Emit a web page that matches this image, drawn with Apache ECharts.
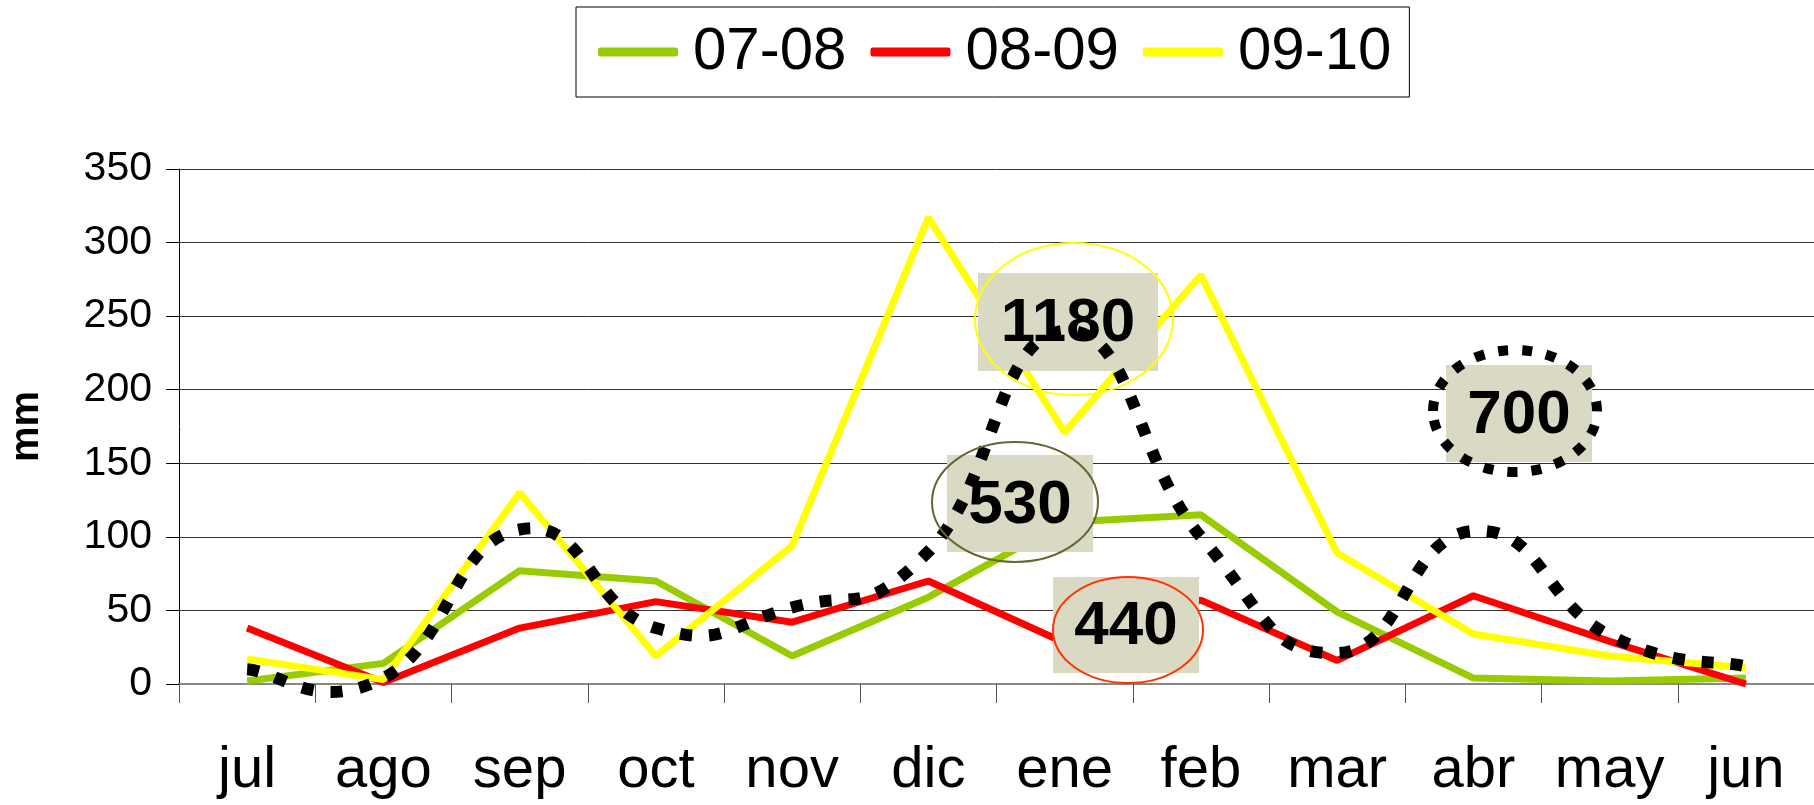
<!DOCTYPE html>
<html>
<head>
<meta charset="utf-8">
<script src="https://cdn.jsdelivr.net/npm/echarts@6/dist/echarts.min.js"></script>
<style>
html, body { margin: 0; padding: 0; background: #fff; }
#chart { width: 1814px; height: 805px; }
</style>
</head>
<body>
<div id="chart"></div>
<script>
// meses de la campaña (jul -> jun)
var months = ['jul', 'ago', 'sep', 'oct', 'nov', 'dic', 'ene', 'feb', 'mar', 'abr', 'may', 'jun'];
var yTicks = [0, 50, 100, 150, 200, 250, 300, 350];

// lluvia mensual, mm
var rain0708 = [2, 14, 77, 70, 19, 59, 110, 115, 49, 4, 2, 4];
var rain0809 = [38, 1, 38, 56, 42, 70, 28, 57, 16, 60, 29, 0];
var rain0910 = [17, 3, 130, 19, 94, 317, 171, 278, 89, 34, 19, 11];
// curva punteada suavizada (sin leyenda)
var rainMedia = [10, 4, 105, 38, 52, 90, 240, 100, 21, 104, 33, 12];

// totales anotados
var totals = ['1180', '530', '440', '700'];

var FONT = 'Liberation Sans, Arial, sans-serif';
var BOX = '#DADAC4';

function callout(text, box, ell, stroke, width, dash) {
    return {
        type: 'group',
        children: [
            { type: 'rect', z: 3, shape: { x: box[0], y: box[1], width: box[2], height: box[3] }, style: { fill: BOX } },
            { type: 'ellipse', z: 6, shape: { cx: ell[0], cy: ell[1], rx: ell[2], ry: ell[3] },
              style: { fill: null, stroke: stroke, lineWidth: width, lineDash: dash || null } },
            { type: 'text', z: 7, x: box[0] + box[2] / 2, y: box[1] + box[3] / 2 + 2,
              style: { text: text, fill: '#000', fontSize: 62, fontWeight: 'bold', fontFamily: FONT,
                       align: 'center', verticalAlign: 'middle' } }
        ]
    };
}

// curva suavizada tipo Excel (Catmull-Rom), con los puntos pasados por la escala del eje
function smoothCurve(params, api) {
    if (params.dataIndex !== 0) return null;
    var pts = rainMedia.map(function (v, i) { return api.coord([i, v]); });
    var k = 0.25;
    var d = 'M' + pts[0][0] + ' ' + pts[0][1];
    for (var i = 0; i < pts.length - 1; i++) {
        var p0 = pts[i - 1] || pts[i], p1 = pts[i], p2 = pts[i + 1], p3 = pts[i + 2] || pts[i + 1];
        var c1 = [p1[0] + (p2[0] - p0[0]) * k, p1[1] + (p2[1] - p0[1]) * k];
        var c2 = [p2[0] - (p3[0] - p1[0]) * k, p2[1] - (p3[1] - p1[1]) * k];
        d += ' C' + c1[0] + ' ' + c1[1] + ' ' + c2[0] + ' ' + c2[1] + ' ' + p2[0] + ' ' + p2[1];
    }
    return {
        type: 'path',
        shape: { pathData: d },
        style: { fill: 'none', stroke: '#000', lineWidth: 12, lineDash: [12, 17], lineCap: 'butt' }
    };
}

var chart = echarts.init(document.getElementById('chart'));
var option = {
    animation: false,
    backgroundColor: '#fff',
    grid: { left: 179, right: 0, top: 169, bottom: 121, containLabel: false, outerBoundsMode: 'none' },
    legend: {
        data: ['07-08', '08-09', '09-10'],
        left: 576,
        top: 7,
        padding: [13, 18, 13, 22],
        itemWidth: 80,
        itemHeight: 9,
        itemGap: 24,
        icon: 'roundRect',
        borderColor: '#000',
        borderWidth: 1,
        textStyle: { fontSize: 60, lineHeight: 64, color: '#000', fontFamily: FONT, padding: [0, 0, 0, 10] }
    },
    xAxis: {
        type: 'category',
        data: months,
        boundaryGap: true,
        axisLine: { lineStyle: { color: '#888', width: 2 } },
        axisTick: { show: true, interval: 0, length: 19, lineStyle: { color: '#555' } },
        axisLabel: { interval: 0, fontSize: 58, lineHeight: 58, color: '#000', fontFamily: FONT, margin: 58 },
        splitLine: { show: false }
    },
    yAxis: {
        type: 'value',
        min: yTicks[0],
        max: yTicks[yTicks.length - 1],
        interval: 50,
        name: 'mm',
        nameLocation: 'middle',
        nameRotate: 90,
        nameGap: 132,
        nameTextStyle: { fontSize: 40, fontWeight: 'bold', color: '#000', fontFamily: FONT },
        axisLine: { show: true, lineStyle: { color: '#000', width: 1 } },
        axisTick: { show: true, length: 13, lineStyle: { color: '#000' } },
        axisLabel: { fontSize: 41, color: '#000', fontFamily: FONT, margin: 27 },
        splitLine: { show: true, lineStyle: { color: '#333', width: 1 } }
    },
    series: [
        { name: '07-08', type: 'line', data: rain0708, symbol: 'none', z: 2,
          itemStyle: { color: '#99CC00' }, lineStyle: { color: '#99CC00', width: 7 } },
        { name: '08-09', type: 'line', data: rain0809, symbol: 'none', z: 2,
          itemStyle: { color: '#FF0000' }, lineStyle: { color: '#FF0000', width: 7 } },
        { name: '09-10', type: 'line', data: rain0910, symbol: 'none', z: 2,
          itemStyle: { color: '#FFFF00' }, lineStyle: { color: '#FFFF00', width: 7 } },
        { name: 'media', type: 'custom', z: 4, silent: true, clip: false,
          data: rainMedia.map(function (v, i) { return [i, v]; }),
          encode: { x: 0, y: 1 },
          renderItem: smoothCurve }
    ],
    graphic: [
        callout(totals[0], [978, 273, 180, 98], [1074, 319, 99, 76], '#FFFF00', 2),
        callout(totals[1], [947, 455, 146, 97], [1015, 502, 83, 60], '#666633', 2),
        callout(totals[2], [1053, 577, 146, 96], [1128, 630, 75, 53], '#FF3300', 2),
        callout(totals[3], [1446, 365, 146, 97], [1515, 411, 82, 61], '#000', 10, [10, 14])
    ]
};
chart.setOption(option);
</script>
</body>
</html>
